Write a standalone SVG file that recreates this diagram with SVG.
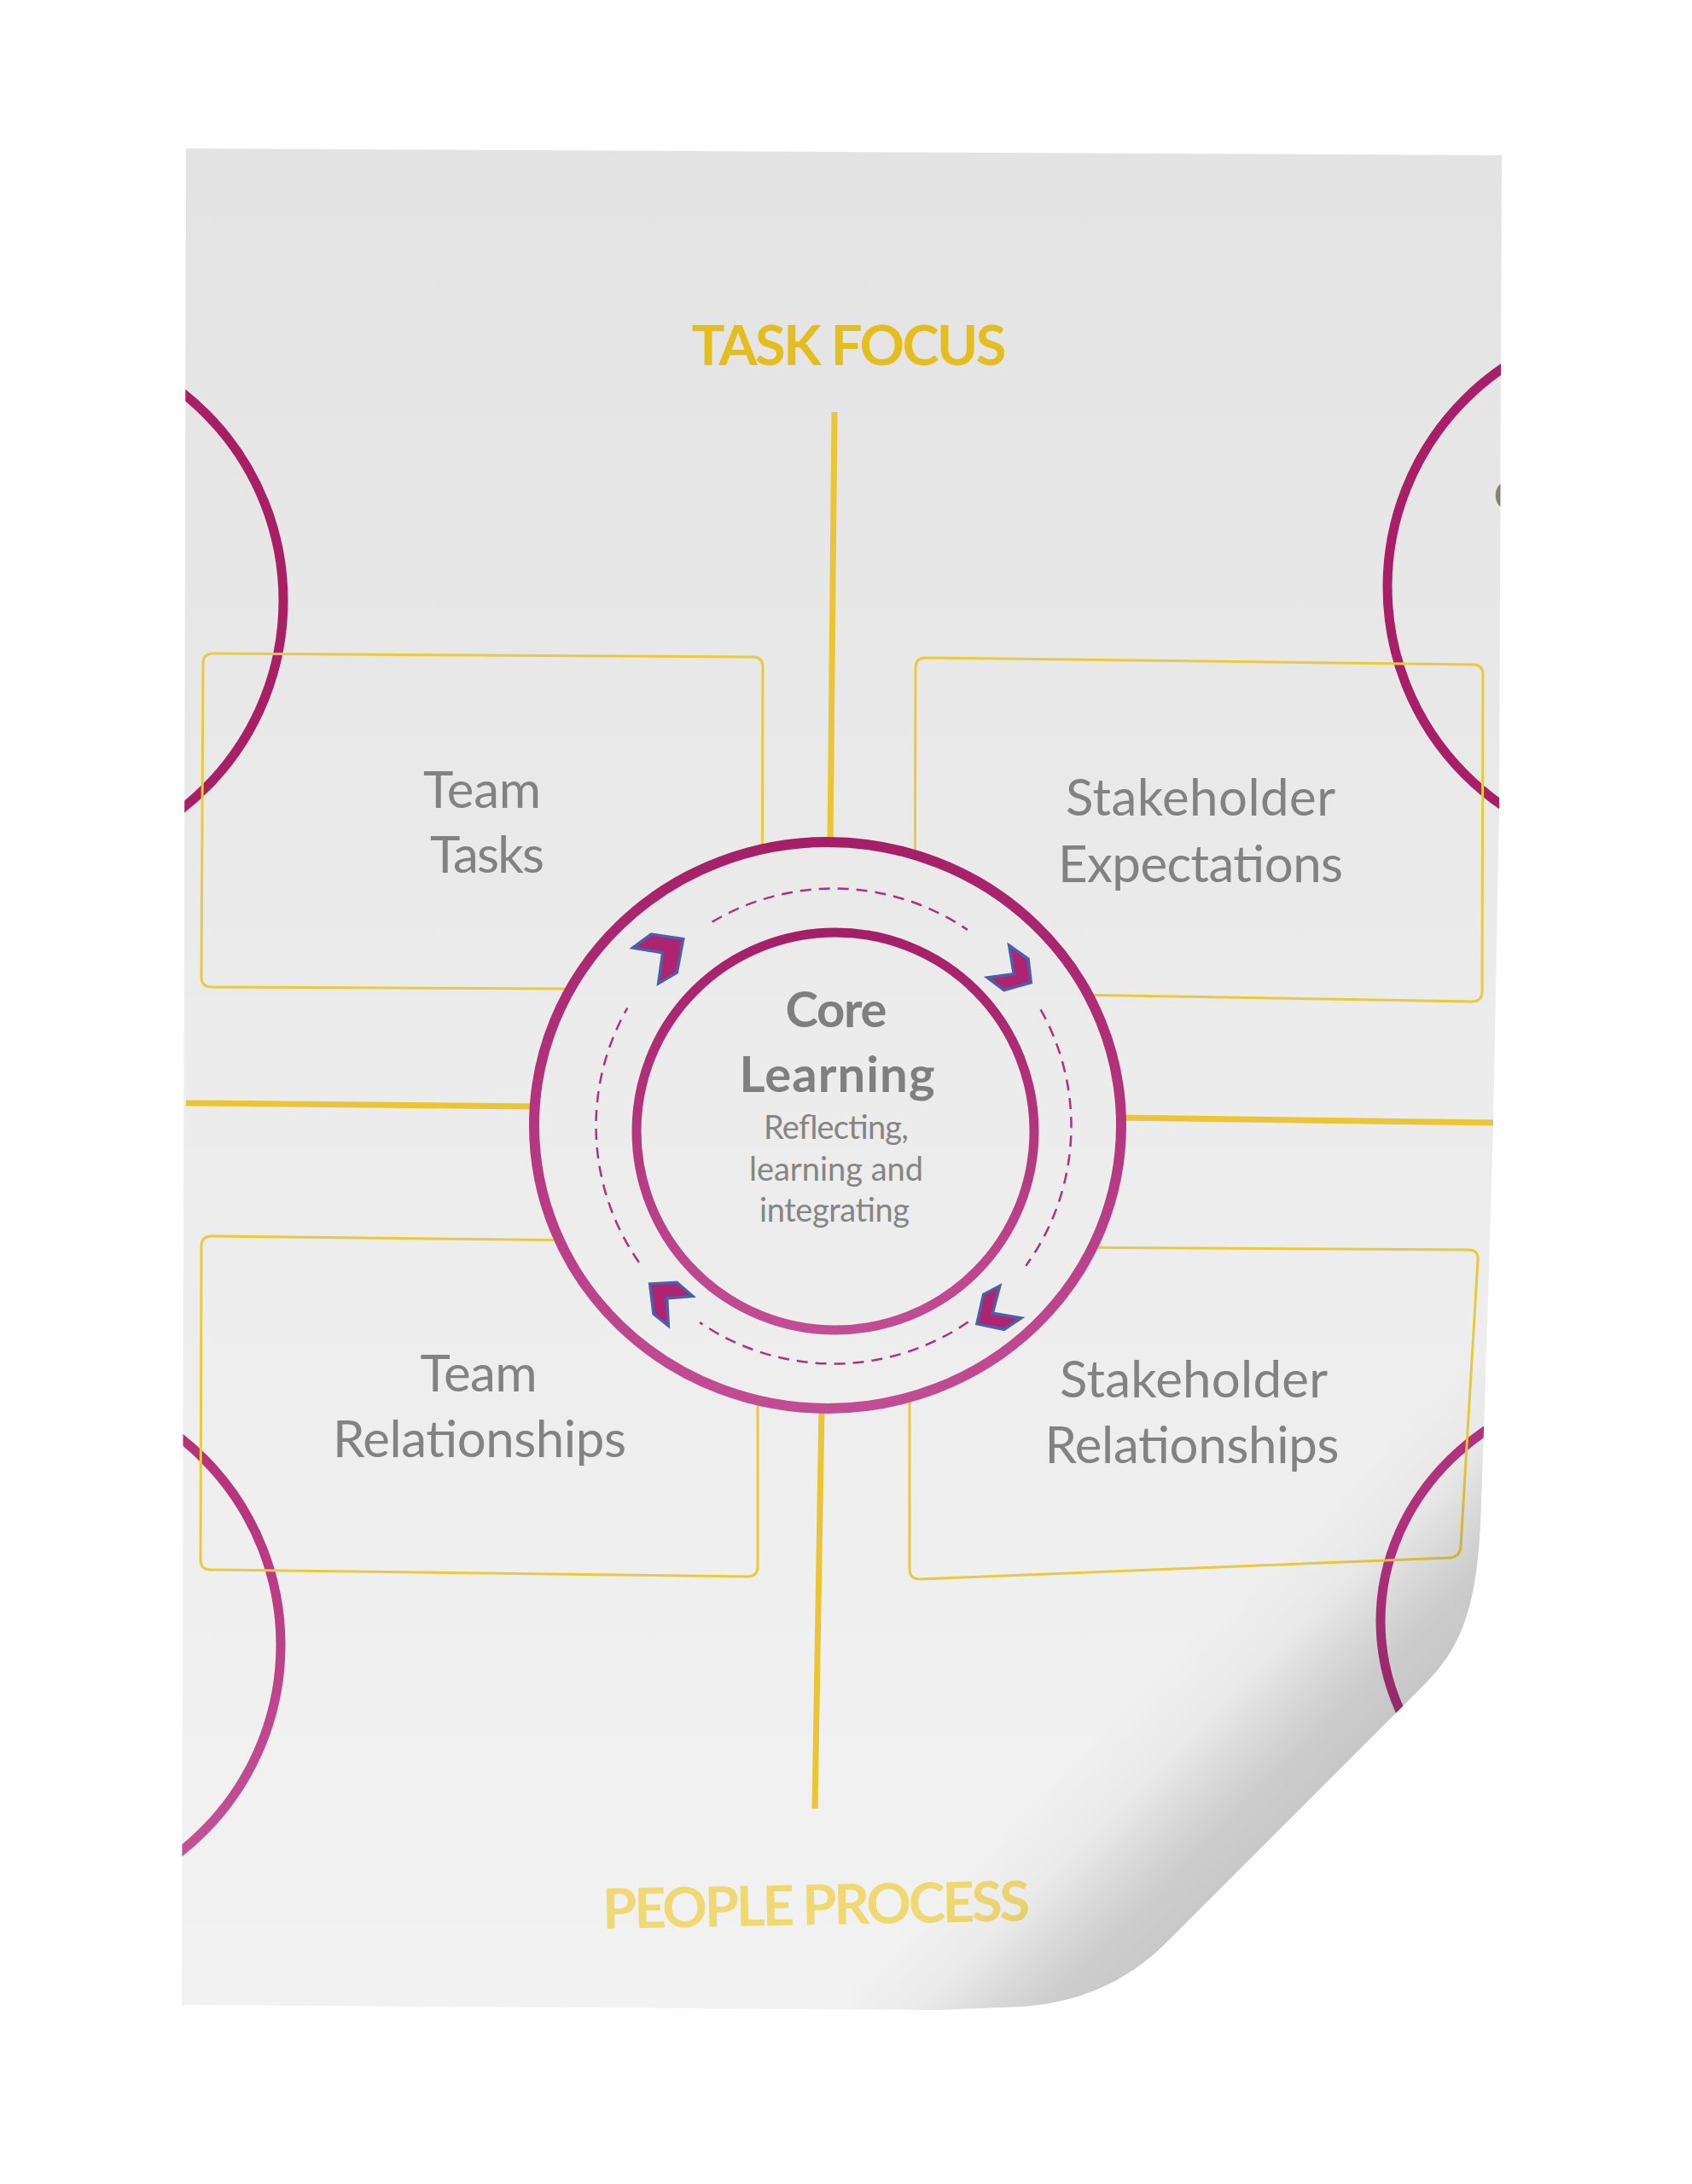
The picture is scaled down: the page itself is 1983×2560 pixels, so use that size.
<svg xmlns="http://www.w3.org/2000/svg" width="1983" height="2560" viewBox="0 0 1983 2560">
  <defs>
    <linearGradient id="paperGrad" gradientUnits="userSpaceOnUse" x1="0" y1="174" x2="0" y2="2356">
      <stop offset="0" stop-color="#E4E3E4"/>
      <stop offset="0.5" stop-color="#ECECEC"/>
      <stop offset="1" stop-color="#F2F2F2"/>
    </linearGradient>
    <linearGradient id="ringGrad" x1="0" y1="0" x2="0" y2="1">
      <stop offset="0" stop-color="#A51F68"/>
      <stop offset="1" stop-color="#C24D95"/>
    </linearGradient>
    <linearGradient id="ringGradLight" x1="0" y1="0" x2="0" y2="1">
      <stop offset="0" stop-color="#B32C77"/>
      <stop offset="1" stop-color="#C6559A"/>
    </linearGradient>
    <linearGradient id="curlShade" gradientUnits="userSpaceOnUse" x1="1385" y1="1932" x2="1546" y2="2093">
      <stop offset="0" stop-color="#000" stop-opacity="0"/>
      <stop offset="0.35" stop-color="#000" stop-opacity="0.03"/>
      <stop offset="0.6" stop-color="#000" stop-opacity="0.1"/>
      <stop offset="0.8" stop-color="#000" stop-opacity="0.15"/>
      <stop offset="1" stop-color="#000" stop-opacity="0.17"/>
    </linearGradient>
    <clipPath id="paperClip">
      <path d="M218,174 L1760,182 L1757,950 L1750,1316 Q1742,1600 1736,1760 C1733,1880 1715,1930 1667,1977 L1368,2276 C1330,2314 1280,2345 1200,2352 L1100,2356 L213,2350 Z"/>
    </clipPath>
    <style>
      .box { fill: none; stroke: #EBC93D; stroke-width: 3; }
      .axis { stroke: #EAC536; stroke-width: 7; stroke-linecap: butt; fill: none; }
      .side { fill: none; stroke-width: 11; }
      .lbl { font-family: Lato, "Open Sans", "Liberation Sans", sans-serif; font-size: 60px; fill: #828282; text-anchor: middle; }
      .head { font-family: Lato, "Open Sans", "Liberation Sans", sans-serif; font-weight: 700; font-size: 65px; text-anchor: middle; }
      .core { font-family: Lato, "Open Sans", "Liberation Sans", sans-serif; font-weight: 700; font-size: 58px; fill: #7F7F7F; text-anchor: middle; }
      .sub { font-family: Lato, "Open Sans", "Liberation Sans", sans-serif; font-size: 38px; fill: #858585; text-anchor: middle; }
      .dash { fill: none; stroke: #B0307A; stroke-width: 2.5; stroke-dasharray: 13 9; }
      .chev { fill: #AF2470; stroke: #4C5FA9; stroke-width: 3.5; stroke-linejoin: miter; }
    </style>
  </defs>

  <rect width="1983" height="2560" fill="#FFFFFF"/>

  <g id="paper">
    <path d="M218,174 L1760,182 L1757,950 L1750,1316 Q1742,1600 1736,1760 C1733,1880 1715,1930 1667,1977 L1368,2276 C1330,2314 1280,2345 1200,2352 L1100,2356 L213,2350 Z" fill="url(#paperGrad)"/>
  </g>

  <g clip-path="url(#paperClip)">
    <g id="side-circles">
      <ellipse id="circle-top-left" class="side" cx="22" cy="704" rx="310" ry="310" stroke="#A81F66"/>
      <ellipse id="circle-top-right" class="side" cx="1937" cy="688" rx="311" ry="311" stroke="#A81F68"/>
      <text id="fragment-top-right" x="1751" y="598" style="font-family: Lato, 'Open Sans', 'Liberation Sans', sans-serif; font-weight: 700; font-size: 48px; fill: #808080;">C</text>
      <ellipse id="circle-bottom-left" class="side" cx="20" cy="1928" rx="309" ry="309" stroke="url(#ringGradLight)"/>
      <ellipse id="circle-bottom-right" class="side" cx="1929" cy="1900" rx="311" ry="280" stroke="#B53280"/>
    </g>

    <g id="box-team-tasks">
      <path class="box" d="M250,766 L882,770 Q894,770 894,782 L893,1148 Q893,1160 881,1160 L248,1157 Q236,1157 236,1145 L238,778 Q238,766 250,766 Z"/>
      <text class="lbl" x="565" y="947" textLength="138">Team</text>
      <text class="lbl" x="571" y="1023" textLength="134">Tasks</text>
    </g>

    <g id="box-stakeholder-expectations">
      <path class="box" d="M1085,771 L1726,779 Q1738,779 1738,791 L1737,1162 Q1737,1174 1725,1174 L1084,1163 Q1072,1163 1072,1151 L1073,783 Q1073,771 1085,771 Z"/>
      <text class="lbl" x="1407" y="956" textLength="316">Stakeholder</text>
      <text class="lbl" x="1407" y="1034" textLength="334">Expectations</text>
    </g>

    <g id="box-team-relationships">
      <path class="box" d="M248,1449 L876,1456 Q888,1456 888,1468 L888,1836 Q888,1848 876,1848 L247,1840 Q235,1840 235,1828 L236,1461 Q236,1449 248,1449 Z"/>
      <text class="lbl" x="561" y="1631" textLength="137">Team</text>
      <text class="lbl" x="562" y="1708" textLength="344">Relationships</text>
    </g>

    <g id="box-stakeholder-relationships">
      <path class="box" d="M1078,1461 L1721,1465 Q1733,1465 1732,1477 L1712,1813 Q1711,1825 1699,1826 L1078,1851 Q1066,1851 1066,1839 L1066,1473 Q1066,1461 1078,1461 Z"/>
      <text class="lbl" x="1399" y="1638" textLength="314" fill="#8C8C8C">Stakeholder</text>
      <text class="lbl" x="1397" y="1715" textLength="345" fill="#8C8C8C">Relationships</text>
    </g>

    <g id="connectors">
      <line class="axis" x1="978" y1="483" x2="973" y2="990"/>
      <line class="axis" x1="963" y1="1650" x2="955" y2="2120" stroke="#EFD458"/>
      <line class="axis" x1="218" y1="1293" x2="630" y2="1297"/>
      <line class="axis" x1="1310" y1="1310" x2="1752" y2="1316"/>
    </g>

    <g id="label-task-focus">
      <text class="head" x="995" y="428" textLength="369" fill="#E4BE1E">TASK FOCUS</text>
    </g>
    <g id="label-people-process">
      <text class="head" x="957" y="2256" textLength="501" fill="#F0D873" font-size="66" transform="rotate(-1.1 957 2256)">PEOPLE PROCESS</text>
    </g>

    <g id="core-learning">
      <ellipse cx="970" cy="1319" rx="344" ry="332" fill="url(#paperGrad)" stroke="url(#ringGrad)" stroke-width="12"/>
      <path class="dash" d="M834.7,1080.6 A278.5,278.5 0 0 1 1133.9,1089.9"/>
      <path class="dash" d="M1219.6,1183.3 A278.5,278.5 0 0 1 1202.3,1483.7"/>
      <path class="dash" d="M1134.7,1549.5 A278.5,278.5 0 0 1 820.1,1550.1"/>
      <path class="dash" d="M748.9,1479.7 A278.5,278.5 0 0 1 735.3,1181.6"/>
      <polygon class="chev" points="741.7,1111 763.3,1095 800.7,1100.7 793.3,1140 771.7,1152.7 776.7,1116.7"/>
      <polygon class="chev" points="1182.7,1108.3 1205,1124 1208.3,1151.7 1176.7,1160.7 1157.3,1146 1188.3,1141.7"/>
      <polygon class="chev" points="761.7,1505 793.3,1503.3 811.7,1519.3 781.7,1521.7 783.3,1554 766,1540"/>
      <polygon class="chev" points="1171.7,1507.3 1163.3,1539.3 1196.7,1545 1176.7,1558.3 1145,1551.7 1152.7,1517.3"/>
      <circle cx="979" cy="1326" r="233" fill="url(#paperGrad)" stroke="url(#ringGrad)" stroke-width="11"/>
      <text class="core" x="980" y="1204" textLength="119">Core</text>
      <text class="core" x="981" y="1280" textLength="229">Learning</text>
      <text class="sub" x="980" y="1335" textLength="170">Reflecting,</text>
      <text class="sub" x="980" y="1384" textLength="204">learning and</text>
      <text class="sub" x="978" y="1432" textLength="176">integrating</text>
    </g>

    <rect id="curl-shading" x="1000" y="1600" width="800" height="800" fill="url(#curlShade)"/>
  </g>
</svg>
